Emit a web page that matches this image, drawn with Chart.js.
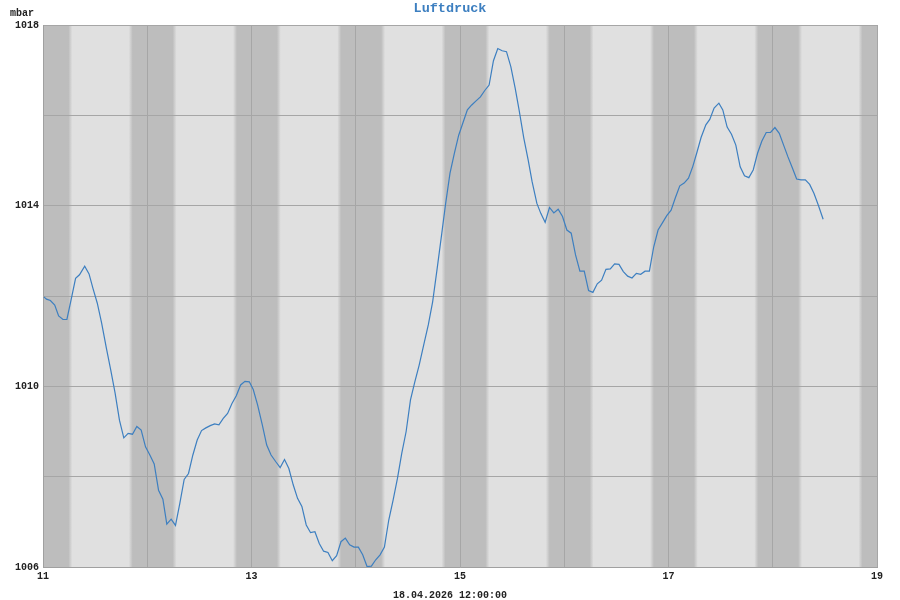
<!DOCTYPE html>
<html>
<head>
<meta charset="utf-8">
<script src="https://cdn.jsdelivr.net/npm/chart.js@4.4.1/dist/chart.umd.min.js"></script>
<style>
    body { margin: 0; background: #fff; }
    #wrap { width: 900px; height: 600px; }
</style>
</head>
<body>
<div id="wrap"><canvas id="pressureChart" width="900" height="600"></canvas></div>
<script>
// hours since 11.04. 00:00
const startDay = 11;
const hours = [
    0.2, 0.8, 1.7, 2.7, 3.6, 4.6, 5.5, 6.5, 7.5, 8.4, 9.6, 10.6, 11.5, 12.5, 13.5, 14.6,
    15.6, 16.6, 17.6, 18.6, 19.6, 20.6, 21.6, 22.6, 23.6, 24.6, 25.6, 26.6, 27.6, 28.5, 29.5, 30.5,
    31.5, 32.5, 33.5, 34.5, 35.5, 36.5, 37.5, 38.5, 39.5, 40.5, 41.5, 42.5, 43.5, 44.5, 45.5, 46.5,
    47.5, 48.4, 49.4, 50.5, 51.5, 52.5, 53.6, 54.6, 55.6, 56.6, 57.6, 58.6, 59.6, 60.6, 61.6, 62.6,
    63.6, 64.6, 65.6, 66.6, 67.6, 68.6, 69.6, 70.6, 71.6, 72.6, 73.6, 74.6, 75.6, 76.6, 77.6, 78.6,
    79.6, 80.6, 81.6, 82.6, 83.6, 84.6, 85.6, 86.6, 87.7, 88.7, 89.7, 90.7, 91.7, 92.7, 93.7, 94.7,
    95.7, 96.7, 97.7, 98.7, 99.7, 100.7, 101.7, 102.7, 103.7, 104.7, 105.7, 106.7, 107.7, 108.7, 109.6, 110.7,
    111.7, 112.6, 113.7, 114.6, 115.6, 116.6, 117.6, 118.6, 119.6, 120.6, 121.6, 122.6, 123.6, 124.6, 125.6, 126.6,
    127.6, 128.6, 129.6, 130.6, 131.6, 132.6, 133.6, 134.6, 135.6, 136.6, 137.6, 138.6, 139.6, 140.6, 141.6, 142.6,
    143.6, 144.6, 145.6, 146.6, 147.6, 148.6, 149.6, 150.6, 151.5, 152.6, 153.5, 154.5, 155.6, 156.5, 157.5, 158.5,
    159.5, 160.5, 161.5, 162.5, 163.5, 164.5, 165.5, 166.5, 167.5, 168.5, 169.5, 170.5, 171.5, 172.5, 173.5, 174.5,
    175.5, 176.5, 177.5, 178.5, 179.6
];
const pressure = [
    1011.98, 1011.93, 1011.90, 1011.80, 1011.56, 1011.48, 1011.48, 1011.93, 1012.39, 1012.47, 1012.66, 1012.49, 1012.17, 1011.84, 1011.40, 1010.84,
    1010.36, 1009.85, 1009.25, 1008.86, 1008.96, 1008.94, 1009.11, 1009.03, 1008.66, 1008.48, 1008.28, 1007.70, 1007.50, 1006.95, 1007.06, 1006.92,
    1007.41, 1007.94, 1008.07, 1008.48, 1008.81, 1009.02, 1009.08, 1009.13, 1009.17, 1009.15, 1009.29, 1009.40, 1009.62, 1009.79, 1010.03, 1010.11,
    1010.10, 1009.93, 1009.59, 1009.14, 1008.70, 1008.48, 1008.33, 1008.20, 1008.38, 1008.18, 1007.82, 1007.52, 1007.34, 1006.93, 1006.76, 1006.78,
    1006.52, 1006.35, 1006.32, 1006.14, 1006.25, 1006.56, 1006.64, 1006.49, 1006.44, 1006.44, 1006.27, 1006.01, 1006.02, 1006.16, 1006.27, 1006.44,
    1007.04, 1007.48, 1007.96, 1008.52, 1009.00, 1009.70, 1010.10, 1010.47, 1010.94, 1011.36, 1011.87, 1012.58, 1013.31, 1014.05, 1014.72, 1015.16,
    1015.56, 1015.84, 1016.12, 1016.23, 1016.32, 1016.41, 1016.55, 1016.67, 1017.21, 1017.48, 1017.43, 1017.41, 1017.08, 1016.60, 1016.12, 1015.49,
    1015.01, 1014.53, 1014.05, 1013.83, 1013.63, 1013.96, 1013.84, 1013.92, 1013.76, 1013.46, 1013.39, 1012.91, 1012.55, 1012.55, 1012.12, 1012.08,
    1012.27, 1012.35, 1012.59, 1012.60, 1012.71, 1012.70, 1012.54, 1012.44, 1012.40, 1012.50, 1012.48, 1012.55, 1012.55, 1013.09, 1013.46, 1013.62,
    1013.78, 1013.90, 1014.18, 1014.44, 1014.50, 1014.61, 1014.87, 1015.20, 1015.51, 1015.79, 1015.91, 1016.16, 1016.27, 1016.12, 1015.74, 1015.58,
    1015.34, 1014.86, 1014.66, 1014.62, 1014.79, 1015.16, 1015.43, 1015.62, 1015.62, 1015.73, 1015.60, 1015.34, 1015.08, 1014.84, 1014.59, 1014.57,
    1014.57, 1014.47, 1014.27, 1014.01, 1013.70
];
const xLabels = [11, 13, 15, 17, 19];
const yLabels = [1006, 1010, 1014, 1018];

// night shading (hours of day), with a soft edge
const dusk = 20.2;
const dawn = 6.3;
const fade = 0.9;

const lightGray = '#e0e0e0';
const darkGray = '#bdbdbd';
const mono = '"Liberation Mono", "DejaVu Sans Mono", monospace';

const nightBands = {
    id: 'nightBands',
    beforeDraw(chart) {
        const { ctx, chartArea: a, scales: { x } } = chart;
        ctx.save();
        ctx.fillStyle = lightGray;
        ctx.fillRect(a.left, a.top, a.width, a.height);
        ctx.beginPath();
        ctx.rect(a.left, a.top, a.width, a.height);
        ctx.clip();
        for (let d = startDay - 1; d < 19; d++) {
            const x0 = x.getPixelForValue(d + (dusk - fade / 2) / 24);
            const x1 = x.getPixelForValue(d + 1 + (dawn + fade / 2) / 24);
            const f = (x.getPixelForValue(d + (dusk + fade / 2) / 24) - x0) / (x1 - x0);
            const g = ctx.createLinearGradient(x0, 0, x1, 0);
            g.addColorStop(0, lightGray);
            g.addColorStop(f, darkGray);
            g.addColorStop(1 - f, darkGray);
            g.addColorStop(1, lightGray);
            ctx.fillStyle = g;
            ctx.fillRect(x0, a.top, x1 - x0, a.height);
        }
        ctx.restore();
    },
    afterDraw(chart) {
        const ctx = chart.ctx;
        const w = chart.width;
        ctx.save();
        ctx.textBaseline = 'alphabetic';
        ctx.font = 'bold 10px ' + mono;
        ctx.fillStyle = '#222';
        ctx.textAlign = 'left';
        ctx.fillText('mbar', 10, 16);
        ctx.textAlign = 'center';
        ctx.fillText('18.04.2026 12:00:00', w / 2, 598);
        ctx.font = 'bold 13.5px ' + mono;
        ctx.fillStyle = '#3d7fc0';
        ctx.fillText('Luftdruck', w / 2, 12);
        ctx.restore();
    }
};

new Chart(document.getElementById('pressureChart'), {
    type: 'line',
    data: {
        datasets: [{
            label: 'Luftdruck',
            data: hours.map((h, i) => ({ x: startDay + h / 24, y: pressure[i] })),
            borderColor: '#3d7fc0',
            borderWidth: 1.2,
            pointRadius: 0,
            tension: 0,
            fill: false
        }]
    },
    options: {
        responsive: false,
        animation: false,
        layout: { padding: { top: 25, right: 23, left: 0, bottom: 0 } },
        plugins: {
            legend: { display: false },
            tooltip: { enabled: false },
            title: { display: false }
        },
        scales: {
            x: {
                type: 'linear',
                min: 11,
                max: 19,
                border: { display: true, color: '#a0a0a0' },
                grid: { color: '#a6a6a6', drawTicks: false },
                ticks: {
                    stepSize: 1,
                    padding: 3,
                    color: '#222',
                    font: { family: mono, size: 10, weight: 'bold' },
                    maxRotation: 0,
                    autoSkip: false,
                    callback: v => xLabels.includes(v) ? String(v) : ''
                },
                afterFit(scale) { scale.height = 33; }
            },
            y: {
                min: 1006,
                max: 1018,
                border: { display: true, color: '#a0a0a0' },
                grid: { color: '#a6a6a6', drawTicks: false },
                ticks: {
                    stepSize: 2,
                    padding: 4,
                    color: '#222',
                    font: { family: mono, size: 10, weight: 'bold' },
                    autoSkip: false,
                    callback: v => yLabels.includes(v) ? String(v) : ''
                },
                afterFit(scale) { scale.width = 43; }
            }
        }
    },
    plugins: [nightBands]
});
</script>
</body>
</html>
